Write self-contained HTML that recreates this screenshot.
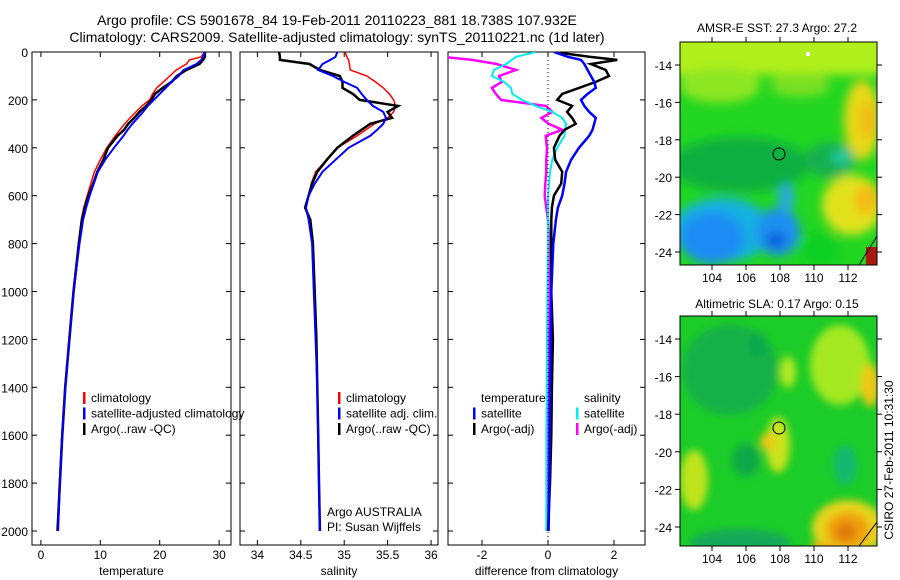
<!DOCTYPE html>
<html><head><meta charset="utf-8">
<style>
html,body{margin:0;padding:0;background:#fff;}
svg{display:block;font-family:"Liberation Sans",sans-serif;}
text{font-size:12px;fill:#000;}
</style></head>
<body>
<svg id="fig" width="900" height="580" viewBox="0 0 900 580" xmlns="http://www.w3.org/2000/svg">
<defs>
<filter id="bl" x="-50%" y="-50%" width="200%" height="200%"><feGaussianBlur stdDeviation="5"/></filter>
<filter id="bl2" x="-50%" y="-50%" width="200%" height="200%"><feGaussianBlur stdDeviation="4"/></filter>
<clipPath id="c1"><rect x="680" y="42" width="197" height="223"/></clipPath>
<clipPath id="c2"><rect x="680" y="316" width="197" height="230"/></clipPath>
</defs>
<text x="337" y="25" text-anchor="middle" style="font-size:14px">Argo profile: CS 5901678_84 19-Feb-2011 20110223_881 18.738S 107.932E</text>
<text x="337" y="42" text-anchor="middle" style="font-size:14px">Climatology: CARS2009. Satellite-adjusted climatology: synTS_20110221.nc (1d later)</text>

<g clip-path="url(#c1)">
<rect x="680" y="42" width="197" height="223" fill="#22d622"/>
<g filter="url(#bl)">
<rect x="660" y="30" width="240" height="45" fill="#b0ee1a"/>
<ellipse cx="720" cy="85" rx="40" ry="18" fill="#8ee620"/>
<ellipse cx="800" cy="85" rx="30" ry="12" fill="#7ae020"/>
<ellipse cx="862" cy="120" rx="18" ry="40" fill="#e6d818"/>
<ellipse cx="868" cy="120" rx="8" ry="18" fill="#f5b812"/>
<ellipse cx="852" cy="205" rx="30" ry="30" fill="#e2e21a"/>
<ellipse cx="866" cy="200" rx="12" ry="15" fill="#f5bc12"/>
<ellipse cx="740" cy="165" rx="70" ry="28" fill="#10b040"/>
<ellipse cx="830" cy="160" rx="25" ry="18" fill="#12b050"/>
<ellipse cx="842" cy="157" rx="10" ry="8" fill="#20c8a0"/>
<ellipse cx="722" cy="230" rx="50" ry="32" fill="#18b0e0"/>
<ellipse cx="712" cy="238" rx="32" ry="26" fill="#1a8cf4"/>
<ellipse cx="778" cy="232" rx="22" ry="24" fill="#1a90f0"/>
<ellipse cx="776" cy="240" rx="10" ry="8" fill="#1060d8"/>
<ellipse cx="786" cy="198" rx="8" ry="14" fill="#2aa8ea"/>
<ellipse cx="820" cy="250" rx="20" ry="18" fill="#10d020"/>
</g>
<rect x="866" y="247" width="14" height="18" fill="#a81a10"/>
<rect x="806" y="52" width="4" height="4" fill="#fff"/>
<path d="M859 265 L877 236" stroke="#000" fill="none"/>
<circle cx="779" cy="154" r="6" fill="none" stroke="#000"/>
</g>
<rect x="680" y="42" width="197" height="223" fill="none" stroke="#000"/>
<text x="777" y="32" text-anchor="middle">AMSR-E SST: 27.3 Argo: 27.2</text>

<g clip-path="url(#c2)">
<rect x="680" y="316" width="197" height="230" fill="#1ccc28"/>
<g filter="url(#bl2)">
<ellipse cx="730" cy="370" rx="48" ry="45" fill="#14b048"/>
<ellipse cx="758" cy="345" rx="10" ry="12" fill="#10a850"/>
<ellipse cx="840" cy="365" rx="30" ry="40" fill="#a5e822"/>
<ellipse cx="870" cy="385" rx="9" ry="22" fill="#f0c814"/>
<ellipse cx="788" cy="372" rx="8" ry="16" fill="#b2e820"/>
<ellipse cx="778" cy="445" rx="12" ry="28" fill="#c8e41a"/>
<ellipse cx="768" cy="442" rx="8" ry="9" fill="#f0c814"/>
<ellipse cx="746" cy="460" rx="14" ry="16" fill="#10a848"/>
<ellipse cx="694" cy="480" rx="14" ry="30" fill="#c0e41e"/>
<ellipse cx="848" cy="528" rx="36" ry="28" fill="#e8d41a"/>
<ellipse cx="848" cy="530" rx="22" ry="18" fill="#f0a010"/>
<ellipse cx="846" cy="532" rx="10" ry="9" fill="#dc7a0a"/>
<ellipse cx="740" cy="543" rx="50" ry="14" fill="#14a85a"/>
<ellipse cx="845" cy="465" rx="12" ry="20" fill="#14b870"/>
<ellipse cx="822" cy="548" rx="12" ry="6" fill="#f0b010"/>
</g>
<path d="M859 546 L877 522" stroke="#000" fill="none"/>
<circle cx="779" cy="428" r="6" fill="none" stroke="#000"/>
</g>
<rect x="680" y="316" width="197" height="230" fill="none" stroke="#000"/>
<text x="777" y="308" text-anchor="middle">Altimetric SLA: 0.17 Argo: 0.15</text>

<text transform="translate(893,460) rotate(-90)" text-anchor="middle">CSIRO 27-Feb-2011 10:31:30</text>
<g id="plots"></g>
</svg>
<script>
const depths = [0,20,33,50,75,100,125,150,175,200,225,250,275,300,325,350,400,450,500,550,600,650,700,800,1000,1200,1400,1600,1800,2000];
// temperature
const tempClim = [27.5,27,25,24.5,22.8,21.7,20.6,19.5,18.8,18.3,17,16,15,14.1,13.3,12.5,11.1,10,9,8.4,7.8,7.2,6.8,6.3,5.4,4.7,4,3.5,3.1,2.8];
const tempSat  = [27.6,27.3,27,26.2,24,23.2,22,21,20,19,18,17.2,16.3,15.4,14.6,13.9,12.3,10.8,9.6,8.9,8.2,7.6,7.1,6.5,5.5,4.8,4.1,3.6,3.2,2.9];
const tempArgo = [27.6,27.6,27.3,26.7,24.5,22.9,22,20.5,19.2,18.6,17.7,16.6,15.7,14.7,14,12.9,11.3,10.5,9.5,8.8,8,7.4,6.9,6.4,5.5,4.8,4.1,3.6,3.2,2.8];
// salinity
const salClim = [35.01,35.03,35.05,35.06,35.07,35.26,35.36,35.45,35.52,35.57,35.59,35.57,35.5,35.35,35.25,35.15,34.92,34.8,34.67,34.62,34.59,34.56,34.59,34.63,34.65,34.67,34.69,34.7,34.71,34.72];
const salSat  = [34.92,34.9,34.84,34.75,34.7,34.87,35.0,35.15,35.2,35.26,35.33,35.45,35.48,35.45,35.38,35.3,35.05,34.9,34.75,34.66,34.59,34.56,34.59,34.63,34.65,34.67,34.69,34.7,34.71,34.72];
const salArgo = [34.25,34.26,34.26,34.6,34.72,34.95,34.98,34.98,35.1,35.18,35.62,35.5,35.55,35.3,35.2,35.1,34.92,34.8,34.69,34.63,34.59,34.55,34.61,34.64,34.66,34.68,34.69,34.7,34.71,34.72];
// differences from climatology
const dTempSat  = [0.18,0.6,1.0,1.1,1.2,1.3,1.4,1.45,1.2,1.0,1.1,1.25,1.45,1.4,1.35,1.25,0.94,0.7,0.55,0.5,0.43,0.3,0.24,0.16,0.1,0.08,0.06,0.05,0.04,0.02];
const dTempArgo = [0.18,1.25,2.1,1.3,1.75,1.85,1.45,0.94,0.43,0.28,0.73,0.58,0.73,0.84,0.5,0.35,0.18,0.22,0.43,0.4,0.18,0.12,0.1,0.1,0.1,0.15,0.12,0.1,0.06,0.0];
const dSalSat   = [-0.36,-0.97,-1.1,-1.27,-1.64,-1.7,-1.33,-1.12,-1.08,-0.79,-0.37,0.13,0.43,0.55,0.52,0.5,0.28,0.13,0.06,0.03,0.0,0.0,0.0,0.0,-0.02,-0.03,-0.04,-0.05,-0.05,-0.05];
const dSalArgo  = [-3.2,-3.2,-2.3,-1.55,-0.97,-1.48,-1.4,-1.7,-1.58,-1.42,-0.07,0.13,-0.2,0.02,0.43,-0.07,-0.03,-0.05,-0.05,-0.08,-0.1,-0.05,0.0,0.04,0.05,0.04,0.03,0.02,0.01,0.0];
const depthTicks = [0,200,400,600,800,1000,1200,1400,1600,1800,2000];
const tempTicks = [0,10,20,30];
const salTicks = [34,34.5,35,35.5,36];
const salTickLabels = ["34","34.5","35","35.5","36"];
const diffTicks = [-2,0,2];

const NS='http://www.w3.org/2000/svg';
const root=document.getElementById('plots');
function mk(tag,attrs,parent){const e=document.createElementNS(NS,tag);for(const k in attrs)e.setAttribute(k,attrs[k]);(parent||root).appendChild(e);return e;}
const yTop=52, yBot=545;
function yS(d){return yTop+d*0.2395;}
function panel(name,x0,x1,vmin,vmax,ticks,labels,xlabel,series,showY){
  const g=mk('g',{});
  
  
  const xS=v=>x0+(v-vmin)/(vmax-vmin)*(x1-x0);
  const clip=mk('clipPath',{id:'cp'+name},g);
  mk('rect',{x:x0,y:yTop,width:x1-x0,height:yBot-yTop},clip);
  const box=mk('rect',{x:x0,y:yTop,width:x1-x0,height:yBot-yTop,fill:'none',stroke:'#000'},g);
  
  
  depthTicks.forEach(d=>{
    const y=yS(d);
    mk('line',{x1:x0,x2:x0+5,y1:y,y2:y,stroke:'#000'},g);
    mk('line',{x1:x1,x2:x1-5,y1:y,y2:y,stroke:'#000'},g);
    if(showY){const t=mk('text',{x:x0-4,y:y+5,'text-anchor':'end'},g);t.textContent=d;
      
      }
  });
  ticks.forEach((v,i)=>{
    const x=xS(v);
    mk('line',{x1:x,x2:x,y1:yBot,y2:yBot-5,stroke:'#000'},g);
    mk('line',{x1:x,x2:x,y1:yTop,y2:yTop+5,stroke:'#000'},g);
    const t=mk('text',{x:x,y:559,'text-anchor':'middle'},g);t.textContent=labels[i];
    
    
  });
  const xl=mk('text',{x:(x0+x1)/2,y:575,'text-anchor':'middle'},g);xl.textContent=xlabel;
  
  
  const sg=mk('g',{'clip-path':'url(#cp'+name+')'},g);
  series.forEach(s=>{
    const pts=depths.map((d,i)=>xS(s.vals[i]).toFixed(1)+','+yS(d).toFixed(1)).join(' ');
    const p=mk('polyline',{points:pts,fill:'none',stroke:s.color,'stroke-width':s.w},sg);
    
    
  });
  return {g,xS};
}
const p1=panel('temperature-panel',32,231,-1.5,32,tempTicks,tempTicks.map(String),'temperature',[
 {name:'temp-climatology-line',vals:tempClim,color:'#f00',w:1.5},
 {name:'temp-argo-line',vals:tempArgo,color:'#000',w:2.5},
 {name:'temp-satellite-line',vals:tempSat,color:'#00f',w:2}],true);
const p2=panel('salinity-panel',240,438,33.8,36.08,salTicks,salTickLabels,'salinity',[
 {name:'sal-climatology-line',vals:salClim,color:'#f00',w:1.5},
 {name:'sal-argo-line',vals:salArgo,color:'#000',w:2.5},
 {name:'sal-satellite-line',vals:salSat,color:'#00f',w:2}],false);
const p3=panel('difference-panel',448,645,-3.03,2.94,diffTicks,diffTicks.map(String),'difference from climatology',[
 {name:'dsal-argo-line',vals:dSalArgo,color:'#f0f',w:2.5},
 {name:'dsal-satellite-line',vals:dSalSat,color:'#0ee',w:2},
 {name:'dtemp-argo-line',vals:dTempArgo,color:'#000',w:2.5},
 {name:'dtemp-satellite-line',vals:dTempSat,color:'#00f',w:2.5}],false);
mk('line',{x1:p3.xS(0),x2:p3.xS(0),y1:yTop,y2:yBot,stroke:'#000','stroke-dasharray':'1,3'},p3.g);

function legend(x,y,items,parentName){
  items.forEach((it,i)=>{
    const yy=y+i*15.5;
    if(it.color){const m=mk('rect',{x:x,y:yy-10,width:2.5,height:12,fill:it.color});
      
      }
    const t=mk('text',{x:x+8,y:yy});t.textContent=it.label;
    
    
  });
}
legend(83,402,[{label:'climatology',color:'#f00'},{label:'satellite-adjusted climatology',color:'#00f'},{label:'Argo(..raw -QC)',color:'#000'}],'temp-legend-entry');
legend(338,402,[{label:'climatology',color:'#f00'},{label:'satellite adj. clim.',color:'#00f'},{label:'Argo(..raw -QC)',color:'#000'}],'sal-legend-entry');
legend(473,402,[{label:'temperature'},{label:'satellite',color:'#00f'},{label:'Argo(-adj)',color:'#000'}],'diff-temp-legend-entry');
legend(576,402,[{label:'salinity'},{label:'satellite',color:'#0ee'},{label:'Argo(-adj)',color:'#f0f'}],'diff-sal-legend-entry');
const a1=mk('text',{x:327,y:516});a1.textContent='Argo AUSTRALIA';


const a2=mk('text',{x:327,y:531});a2.textContent='PI: Susan Wijffels';



// map axes
const lonTicks=[104,106,108,110,112];
const latTicks=[-14,-16,-18,-20,-22,-24];
function mapAxes(name,top,bot,lat14y,pxPerDeg){
  const g=mk('g',{});
  
  
  lonTicks.forEach(v=>{
    const x=712+(v-104)*17;
    mk('line',{x1:x,x2:x,y1:bot,y2:bot+5,stroke:'#000'},g);
    mk('line',{x1:x,x2:x,y1:top,y2:top-5,stroke:'#000'},g);
    const t=mk('text',{x:x,y:bot+17,'text-anchor':'middle'},g);t.textContent=v;
    
    
  });
  latTicks.forEach(v=>{
    const y=lat14y+(-14-v)*pxPerDeg;
    mk('line',{x1:680,x2:675,y1:y,y2:y,stroke:'#000'},g);
    mk('line',{x1:877,x2:882,y1:y,y2:y,stroke:'#000'},g);
    const t=mk('text',{x:672,y:y+5,'text-anchor':'end'},g);t.textContent=v;
    
    
  });
}
mapAxes('sst-map-axes',42,265,65,18.7);
mapAxes('sla-map-axes',316,546,339,18.8);
</script>
</body></html>
